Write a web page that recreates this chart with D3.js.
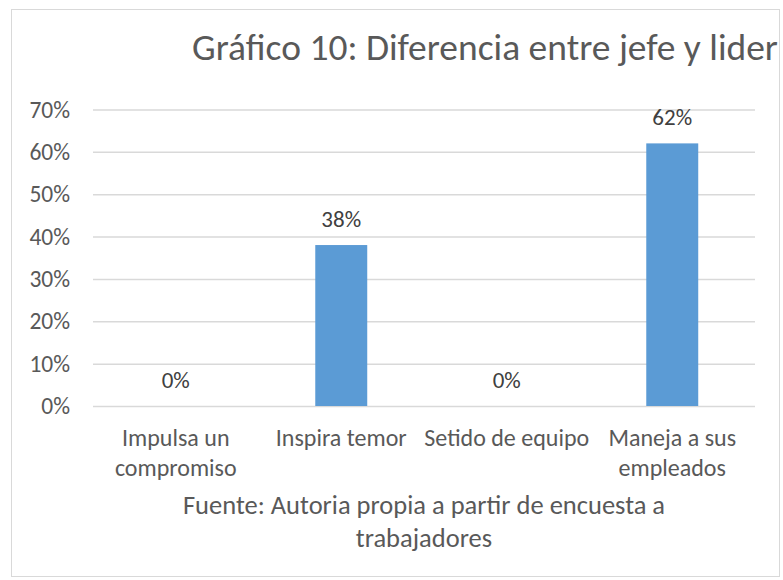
<!DOCTYPE html>
<html>
<head>
<meta charset="utf-8">
<script src="https://cdn.jsdelivr.net/npm/d3@7"></script>
<style>
  body { margin: 0; background: #fff; }
  svg { font-family: Calibri, Carlito, "Liberation Sans", sans-serif; }
</style>
</head>
<body>
<div id="chart"></div>
<script>
// ============ Data ============
const categories = ['Impulsa un compromiso', 'Inspira temor', 'Setido de equipo', 'Maneja a sus empleados'];
const values = [0, 0.38, 0, 0.62];
const yTicks = [0, 0.1, 0.2, 0.3, 0.4, 0.5, 0.6, 0.7];
const titleText = 'Gráfico 10: Diferencia entre jefe y lider';
const axisTitleLines = ['Fuente: Autoria propia a partir de encuesta a', 'trabajadores'];

const W = 783, H = 580;
const plot = { left: 93, right: 755, top: 109.5, bottom: 406 };
const textColor = '#595959';

const svg = d3.select('#chart').append('svg')
  .attr('width', W).attr('height', H);

// chart border
svg.append('rect')
  .attr('x', 11.5).attr('y', 9.5)
  .attr('width', 768).attr('height', 567)
  .attr('fill', '#fff').attr('stroke', '#d9d9d9').attr('stroke-width', 1);

const x = d3.scaleBand()
  .domain(categories)
  .range([plot.left, plot.right])
  .paddingInner(0.686).paddingOuter(0.343);

const y = d3.scaleLinear().domain([0, 0.7]).range([plot.bottom, plot.top]);

// ── Gridlines + y axis labels ──
const yAxis = d3.axisLeft(y).tickValues(yTicks)
  .tickFormat(d3.format('.0%'))
  .tickSize(-(plot.right - plot.left)).tickPadding(23);

const gy = svg.append('g')
  .attr('transform', `translate(${plot.left},0)`)
  .call(yAxis)
  .attr('font-family', null).attr('font-size', null);
gy.select('.domain').remove();
gy.selectAll('line').attr('stroke', '#d9d9d9').attr('stroke-width', 1.5);
gy.selectAll('text').attr('fill', textColor).attr('font-size', 23.5);

// ── Bars ──
svg.append('g').selectAll('rect')
  .data(values).enter().append('rect')
  .attr('x', (d, i) => x(categories[i]))
  .attr('y', d => y(d))
  .attr('width', x.bandwidth())
  .attr('height', d => y(0) - y(d))
  .attr('fill', '#5b9bd5');

// data labels
svg.append('g').selectAll('text')
  .data(values).enter().append('text')
  .attr('x', (d, i) => x(categories[i]) + x.bandwidth() / 2)
  .attr('y', d => y(d) - 18.5)
  .attr('text-anchor', 'middle')
  .attr('font-size', 23)
  .attr('fill', '#404040')
  .text(d => d3.format('.0%')(d));

// ── Category labels (wrapped) ──
const xAxis = d3.axisBottom(x).tickSize(0).tickPadding(0);
const gx = svg.append('g')
  .attr('transform', `translate(0,${plot.bottom})`)
  .call(xAxis)
  .attr('font-family', null).attr('font-size', null);
gx.select('.domain').remove();
gx.selectAll('text')
  .attr('fill', textColor).attr('font-size', 24)
  .attr('y', 40).attr('dy', null)
  .call(wrap, x.step() + 4);

// ── Axis title ──
svg.append('text')
  .attr('text-anchor', 'middle')
  .attr('font-size', 26.5)
  .attr('fill', textColor)
  .selectAll('tspan')
  .data(axisTitleLines).enter().append('tspan')
  .attr('x', (plot.left + plot.right) / 2)
  .attr('y', (d, i) => 514 + i * 33)
  .text(d => d);

// ── Chart title ──
svg.append('text')
  .attr('x', 485).attr('y', 60)
  .attr('text-anchor', 'middle')
  .attr('font-size', 37.5)
  .attr('fill', textColor)
  .text(titleText);

function wrap(texts, width) {
  texts.each(function () {
    const text = d3.select(this);
    const words = text.text().split(/\s+/);
    const y0 = +text.attr('y');
    let line = [];
    let lineNo = 0;
    text.text(null);
    let tspan = text.append('tspan').attr('x', 0).attr('y', y0);
    words.forEach(w => {
      line.push(w);
      tspan.text(line.join(' '));
      if (tspan.node().getComputedTextLength() > width && line.length > 1) {
        line.pop();
        tspan.text(line.join(' '));
        line = [w];
        lineNo++;
        tspan = text.append('tspan').attr('x', 0).attr('y', y0 + lineNo * 30).text(w);
      }
    });
  });
}
</script>
</body>
</html>
